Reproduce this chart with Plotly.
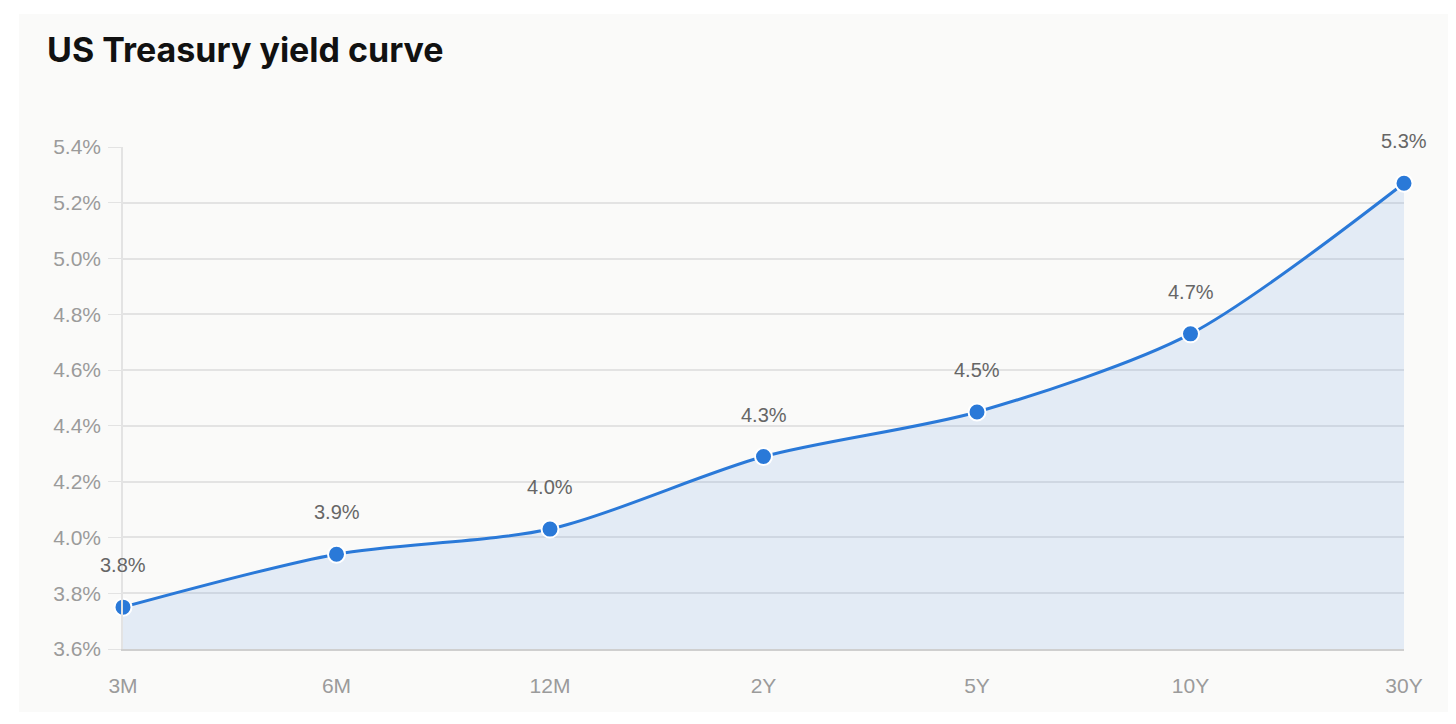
"""US Treasury yield curve - area line chart"""
import plotly.graph_objects as go

# data
maturities = ["3M", "6M", "12M", "2Y", "5Y", "10Y", "30Y"]
yields = [3.75, 3.94, 4.03, 4.29, 4.45, 4.73, 5.27]
y_ticks = [3.6, 3.8, 4.0, 4.2, 4.4, 4.6, 4.8, 5.0, 5.2, 5.4]

labels = [f"{v:.1f}%" for v in yields]
tick_text = [f"{v:.1f}%" for v in y_ticks]

LINE = "#2a79d8"
GRID = "#e3e3e3"
SANS = "Liberation Sans, Arial, sans-serif"
TICK_FONT = dict(family=SANS, size=21, color="#9b9b9b")

# the page body has an 8px margin, so the figure is sized to fit inside it
W, H = 1440, 708

fig = go.Figure()

fig.add_trace(
    go.Scatter(
        x=maturities,
        y=yields,
        mode="lines+markers",
        line=dict(color=LINE, width=3, shape="spline", smoothing=0.8),
        marker=dict(size=17, color=LINE, line=dict(color="white", width=2)),
        fill="tozeroy",
        fillcolor="rgba(42,121,216,0.11)",
        cliponaxis=False,
        hoverinfo="skip",
        showlegend=False,
    )
)

# value labels above each point
for m, v, t in zip(maturities, yields, labels):
    fig.add_annotation(
        x=m, y=v, text=t, showarrow=False, yshift=42,
        font=dict(family=SANS, size=20, color="#666666"),
    )

# light panel behind the chart
fig.add_shape(
    type="rect", xref="paper", yref="paper",
    x0=-0.0812, x1=1.0367, y0=-0.1255, y1=1.265,
    fillcolor="#fafaf9", line=dict(width=0), layer="below",
)

fig.update_layout(
    width=W,
    height=H,
    margin=dict(l=115, r=44, t=139, b=67),
    paper_bgcolor="white",
    plot_bgcolor="rgba(0,0,0,0)",
    title=dict(
        text="<b>US Treasury yield curve</b>",
        x=39 / W, xref="container", xanchor="left",
        y=1 - 42 / H, yref="container", yanchor="middle",
        font=dict(family="Inter, Liberation Sans, sans-serif", size=34, color="#111111"),
    ),
    xaxis=dict(
        type="category",
        range=[0, len(maturities) - 1],
        showgrid=False,
        showline=True,
        linecolor="#cfcfcf",
        linewidth=2,
        ticks="",
        tickfont=TICK_FONT,
        ticklabelstandoff=17,
        fixedrange=True,
    ),
    yaxis=dict(
        range=[3.6, 5.4],
        tickvals=y_ticks,
        ticktext=tick_text,
        showgrid=True,
        gridcolor=GRID,
        gridwidth=1.5,
        showline=True,
        linecolor=GRID,
        linewidth=1.5,
        ticks="outside",
        ticklen=13,
        tickcolor=GRID,
        tickfont=TICK_FONT,
        ticklabelstandoff=3,
        zeroline=False,
        fixedrange=True,
    ),
)

fig.write_html("out.html")
